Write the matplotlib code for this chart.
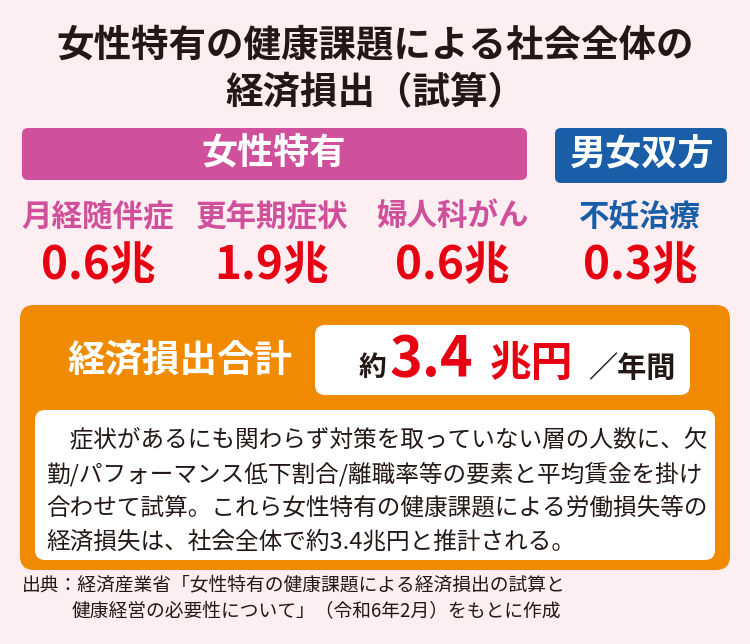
import matplotlib
matplotlib.use("Agg")
import matplotlib.pyplot as plt
from matplotlib.patches import FancyBboxPatch

plt.rcParams['font.family'] = ['Noto Sans CJK JP', 'DejaVu Sans']

categories = ["月経随伴症", "更年期症状", "婦人科がん", "不妊治療"]
values = [0.6, 1.9, 0.6, 0.3]
groups = ["女性特有", "女性特有", "女性特有", "男女双方"]
total = 3.4

fig = plt.figure(figsize=(7.5, 6.44), dpi=100)
fig.patch.set_facecolor("#fdeef1")
ax = fig.add_axes([0, 0, 1, 1])
ax.set_xlim(0, 750); ax.set_ylim(644, 0); ax.axis("off")

MAG = "#d1509b"; BLUE = "#1b5ea8"; RED = "#e60012"; ORG = "#f08a00"

ax.text(375, 46, "女性特有の健康課題による社会全体の", ha="center", va="center", fontsize=27, weight="bold", color="#231815")
ax.text(375, 93, "経済損出（試算）", ha="center", va="center", fontsize=27, weight="bold", color="#231815")

def rbox(x0, y0, x1, y1, fc, r=8, ec="none", lw=0):
    ax.add_patch(FancyBboxPatch((x0 + r, y0 + r), x1 - x0 - 2*r, y1 - y0 - 2*r,
                                boxstyle=f"round,pad={r}", fc=fc, ec=ec, lw=lw))

rbox(22, 128, 527, 180, MAG, r=6)
ax.text(274, 154, "女性特有", ha="center", va="center", fontsize=26, weight="bold", color="white")
rbox(555, 128, 727, 183, BLUE, r=6)
ax.text(641, 155, "男女双方", ha="center", va="center", fontsize=26, weight="bold", color="white")

xs = [98, 272, 452, 640]
for x, c, v, g in zip(xs, categories, values, groups):
    col = MAG if g == "女性特有" else BLUE
    ax.text(x, 216, c, ha="center", va="center", fontsize=22, weight="bold", color=col)
    ax.text(x, 266, f"{v}兆", ha="center", va="center", fontsize=33, weight="bold", color=RED)

rbox(20, 305, 730, 570, ORG, r=14)
ax.text(180, 360, "経済損出合計", ha="center", va="center", fontsize=27, weight="bold", color="white")
rbox(315, 325, 690, 395, "white", r=10)
ax.text(372, 368, "約", ha="center", va="center", fontsize=20, weight="bold", color="#231815")
ax.text(390, 360, f"{total}", ha="left", va="center", fontsize=40, weight="bold", color=RED)
ax.text(490, 364, "兆円", ha="left", va="center", fontsize=30, weight="bold", color=RED)
ax.text(588, 368, "／年間", ha="left", va="center", fontsize=21, weight="bold", color="#231815")

rbox(35, 410, 715, 560, "white", r=10)
lines = ["　症状があるにも関わらず対策を取っていない層の人数に、欠",
         "勤/パフォーマンス低下割合/離職率等の要素と平均賃金を掛け",
         "合わせて試算。これら女性特有の健康課題による労働損失等の",
         "経済損失は、社会全体で約3.4兆円と推計される。"]
for i, l in enumerate(lines):
    ax.text(46, 440 + i*34, l, ha="left", va="center", fontsize=17, color="#231815")

ax.text(22, 585, "出典：経済産業省「女性特有の健康課題による経済損出の試算と", ha="left", va="center", fontsize=13.5, color="#231815")
ax.text(72, 612, "健康経営の必要性について」（令和6年2月）をもとに作成", ha="left", va="center", fontsize=13.5, color="#231815")

fig.savefig("out.png", dpi=100, facecolor=fig.get_facecolor())
